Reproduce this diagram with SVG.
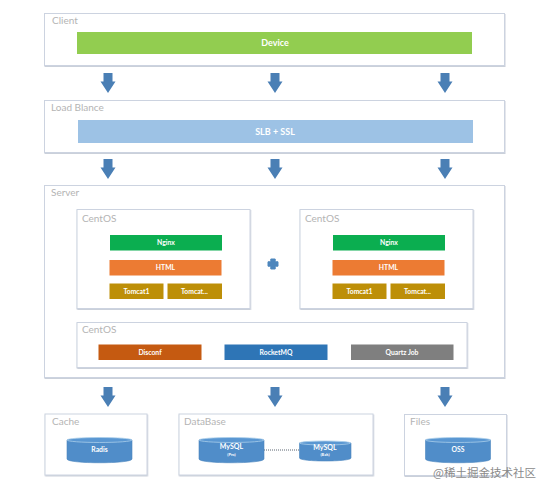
<svg xmlns="http://www.w3.org/2000/svg" width="550" height="493" viewBox="0 0 550 493">
<defs>
<filter id="soft" x="-5%" y="-5%" width="110%" height="115%"><feDropShadow dx="0.5" dy="1" stdDeviation="0.7" flood-color="#8a96ad" flood-opacity="0.45"/></filter>
<path id="arrow" d="M-4.500-10H4.500V-1.500H7.500L0 10L-7.500-1.500H-4.500Z" fill="#4a7fb5"/>
<g id="server">
<rect width="173" height="99" class="box"/>
<text x="5" y="12" class="lab">CentOS</text>
</g>
</defs>
<style>
text{font-family:Lato,"Liberation Sans",Arial,sans-serif}
.box{fill:#fff;stroke:#ccd3e0;stroke-width:1;filter:url(#soft)}
.lab{font-size:10px;fill:#b4b4b4}
.w{fill:#fff;text-anchor:middle;font-size:6.800px;font-weight:bold}
.big{font-size:9px}
.my{font-size:7px}
.sub{font-size:4px}
.cyl{fill:#508dc9;stroke:#4a84bd;stroke-width:.6}
.top{fill:#5a97d2;stroke:#a8cdea;stroke-width:.8}
.n{fill:#0bae50}.h{fill:#ec7b33}.t{fill:#bd8f08}
</style>
<rect width="550" height="493" fill="#fff"/>
<g id="boxes-under">
<rect x="44.500" y="13.500" width="460" height="52" class="box"/>
<rect x="44.500" y="100.500" width="460" height="52" class="box"/>
<rect x="44.500" y="185.500" width="460" height="192" class="box"/>
<rect x="45" y="414" width="102" height="61" class="box"/>
<rect x="179" y="414" width="194" height="61" class="box"/>
<rect x="404.500" y="414.500" width="102" height="61" class="box"/>
</g>
<g id="connectors">
<use href="#arrow" x="108" y="83"/><use href="#arrow" x="275" y="83"/><use href="#arrow" x="445" y="83"/>
<use href="#arrow" x="108" y="169"/><use href="#arrow" x="275" y="169"/><use href="#arrow" x="445" y="169"/>
<use href="#arrow" x="108" y="397"/><use href="#arrow" x="275" y="397"/><use href="#arrow" x="445" y="397"/>
<path d="M264 450H299" stroke="#5a6470" stroke-width="1" stroke-dasharray="1 1" fill="none"/>
</g>
<g id="client">
<text x="52" y="24" class="lab">Client</text>
<rect x="77" y="32" width="395" height="22" fill="#92cd50"/>
<text x="275" y="46" class="w big">Device</text>
</g>
<g id="load">
<text x="51" y="111" class="lab">Load Blance</text>
<rect x="78" y="120" width="395" height="23" fill="#9dc2e5"/>
<text x="275" y="135" class="w big">SLB + SSL</text>
</g>
<g id="server-box">
<text x="51" y="196" class="lab">Server</text>
</g>
<g id="centos1">
<use href="#server" x="77" y="209.500"/>
<rect x="110" y="235" width="112" height="15.500" class="n"/><text x="166" y="245" class="w">Nginx</text>
<rect x="109.500" y="260" width="112" height="15.500" class="h"/><text x="165.500" y="270" class="w">HTML</text>
<rect x="109.500" y="283.500" width="54" height="15.500" class="t"/><text x="136.500" y="293.500" class="w">Tomcat1</text>
<rect x="167.500" y="283.500" width="54.500" height="15.500" class="t"/><text x="194.500" y="293.500" class="w">Tomcat...</text>
</g>
<g id="plus">
<path d="M270.800 259h4.400v2.800h2.800v4.400h-2.800v2.800h-4.400v-2.800h-2.800v-4.400h2.800z" fill="#4d86bd" stroke="#4d86bd" stroke-width="1" stroke-linejoin="round"/>
</g>
<g id="centos2">
<use href="#server" x="300" y="209.500"/>
<rect x="333" y="235" width="112" height="15.500" class="n"/><text x="389" y="245" class="w">Nginx</text>
<rect x="332.500" y="260" width="112" height="15.500" class="h"/><text x="388.500" y="270" class="w">HTML</text>
<rect x="332.500" y="283.500" width="54" height="15.500" class="t"/><text x="359.500" y="293.500" class="w">Tomcat1</text>
<rect x="390.500" y="283.500" width="54.500" height="15.500" class="t"/><text x="417.500" y="293.500" class="w">Tomcat...</text>
</g>
<g id="centos3">
<rect x="77" y="322.500" width="390" height="45" class="box"/>
<text x="82" y="333" class="lab">CentOS</text>
<rect x="98.500" y="344.500" width="103" height="15.500" fill="#c55a11"/><text x="150" y="354.500" class="w">Disconf</text>
<rect x="224.500" y="344.500" width="103" height="15.500" fill="#2e75b6"/><text x="276" y="354.500" class="w">RocketMQ</text>
<rect x="351" y="344.500" width="102.500" height="15.500" fill="#7f7f7f"/><text x="402" y="354.500" class="w">Quartz Job</text>
</g>
<g id="cache">
<text x="52" y="425" class="lab">Cache</text>
<path d="M67 440V459C67 464 132 464 132 459V440Z" class="cyl"/>
<ellipse cx="99.500" cy="440" rx="32.500" ry="2.500" class="top"/>
<text x="99.500" y="452" class="w">Radis</text>
</g>
<g id="database">
<text x="184" y="425" class="lab">DataBase</text>
<path d="M199 440V459C199 464 264 464 264 459V440Z" class="cyl"/>
<ellipse cx="231.500" cy="440" rx="32.500" ry="2.500" class="top"/>
<text x="231.500" y="449" class="w my">MySQL</text>
<text x="231.500" y="456" class="w sub">(Pro)</text>
<path d="M299.500 443V458C299.500 462 351 462 351 458V443Z" class="cyl"/>
<ellipse cx="325" cy="443" rx="25.500" ry="2" class="top"/>
<text x="325" y="450" class="w my">MySQL</text>
<text x="325" y="456" class="w sub">(Bak)</text>
</g>
<g id="files">
<text x="410" y="425" class="lab">Files</text>
<path d="M425.500 440V459C425.500 464 490.500 464 490.500 459V440Z" class="cyl"/>
<ellipse cx="458" cy="440" rx="32.500" ry="2.500" class="top"/>
<text x="458" y="452" class="w">OSS</text>
</g>
<text x="433" y="477" font-size="11.500" fill="#8a8a8a" style="font-family:'Noto Sans CJK SC','Liberation Sans',sans-serif">@稀土掘金技术社区</text>
</svg>
